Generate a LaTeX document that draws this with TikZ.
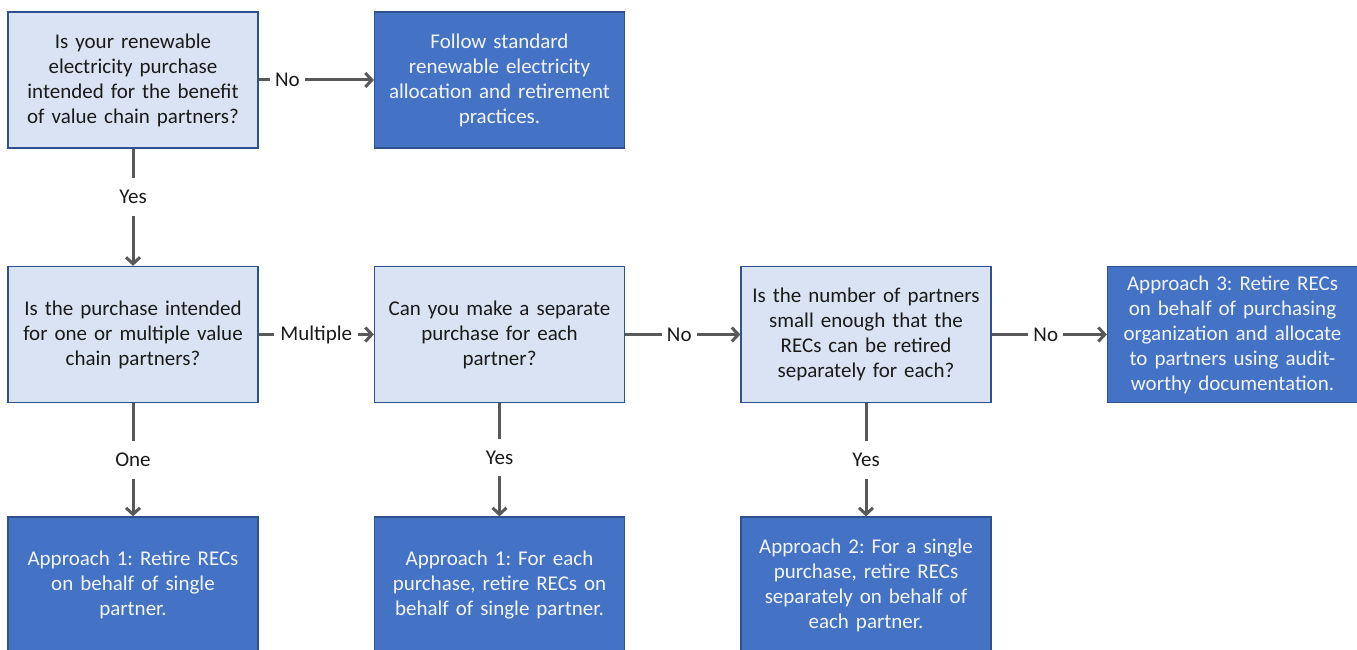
\documentclass[tikz,border=0pt]{standalone}
\usepackage{fontspec}
\setmainfont{Carlito}
\usetikzlibrary{arrows.meta}
\definecolor{lightfill}{HTML}{DAE3F3}
\definecolor{boxborder}{HTML}{2F528F}
\definecolor{darkfill}{HTML}{4472C4}
\definecolor{arrowgray}{HTML}{595959}
\definecolor{txt}{HTML}{1A1A1A}
\definecolor{wtxt}{HTML}{F2F5FB}
\begin{document}
\frenchspacing
\begin{tikzpicture}[x=1pt,y=-1pt,
  box/.style={draw=boxborder,line width=1.3pt,minimum width=250pt,minimum height=136pt,
    text width=246pt,align=center,inner sep=0pt,font=\fontsize{21}{25}\selectfont},
  qbox/.style={box,fill=lightfill,text=txt},
  abox/.style={box,fill=darkfill,text=wtxt},
  arr/.style={draw=arrowgray,line width=3pt,-{Straight Barb[length=6.5pt,width=14pt,line width=3pt]}},
  hlbl/.style={fill=white,text=txt,inner xsep=5pt,inner ysep=2pt,font=\fontsize{21}{24}\selectfont},
  vlbl/.style={fill=white,text=txt,inner xsep=3pt,inner ysep=12pt,font=\fontsize{21}{24}\selectfont}]
\useasboundingbox (0,0) rectangle (1357,650);
\clip (0,0) rectangle (1357,650);
\fill[white] (0,0) rectangle (1357,650);

\node[qbox] (A) at (133,80) {Is your renewable\\electricity purchase\\intended for the benefit\\of value chain partners?};
\node[abox] (B) at (499.5,80) {Follow standard\\renewable electricity\\allocation and retirement\\practices.};
\node[qbox] (C) at (133,334.5) {Is the purchase intended\\for one or multiple value\\chain partners?};
\node[qbox] (D) at (499.5,334.5) {Can you make a separate\\purchase for each\\partner?};
\node[qbox] (E) at (866,334.5) {Is the number of partners\\small enough that the\\RECs can be retired\\separately for each?};
\node[abox] (F) at (1232.5,334.5) {Approach 3: Retire RECs\\on behalf of purchasing\\organization and allocate\\to partners using audit-\\worthy documentation.};
\node[abox] (G) at (133,585) {Approach 1: Retire RECs\\on behalf of single\\partner.};
\node[abox] (H) at (499.5,585) {Approach 1: For each\\purchase, retire RECs on\\behalf of single partner.};
\node[abox] (I) at (866,585) {Approach 2: For a single\\purchase, retire RECs\\separately on behalf of\\each partner.};

\draw[arr] (A) -- node[hlbl,pos=0.25]{No} (B);
\draw[arr] (A) -- node[vlbl,pos=0.41]{Yes} (C);
\draw[arr] (C) -- node[hlbl,pos=0.5,inner xsep=6pt]{Multiple} (D);
\draw[arr] (D) -- node[hlbl,pos=0.47]{No} (E);
\draw[arr] (E) -- node[hlbl,pos=0.47]{No} (F);
\draw[arr] (C) -- node[vlbl,pos=0.5]{One} (G);
\draw[arr] (D) -- node[vlbl,pos=0.48]{Yes} (H);
\draw[arr] (E) -- node[vlbl,pos=0.5]{Yes} (I);
\end{tikzpicture}
\end{document}
